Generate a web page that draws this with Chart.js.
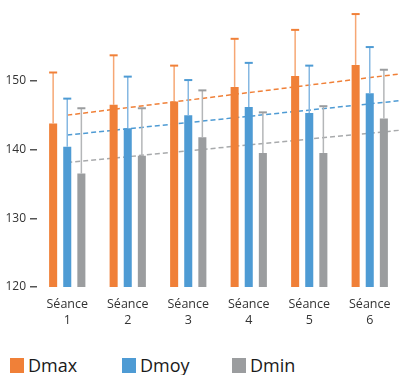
<!DOCTYPE html>
<html>
<head>
<meta charset="utf-8">
<script src="https://cdn.jsdelivr.net/npm/chart.js@4"></script>
<style>
  html, body { margin: 0; padding: 0; background: #ffffff; }
  #wrap { position: relative; width: 401px; height: 375px; overflow: hidden; }
  #wrap canvas { position: absolute; left: 0; top: 0; }
  #legend { position: absolute; left: 0; top: 354px; height: 22px; font-family: 'Open Sans', sans-serif; font-size: 18px; font-weight: 500; color: #1a1a1a; }
  #legend .item { position: absolute; top: 0; height: 22px; display: flex; align-items: center; white-space: nowrap; }
  #legend .box { display: block; width: 14px; height: 15px; margin-right: 4px; }
</style>
</head>
<body>
<div id="wrap">
  <canvas id="trendChart" width="401" height="335"></canvas>
  <canvas id="seanceChart" width="401" height="335"></canvas>
  <div id="legend"></div>
</div>
<script>
const seances = [['Séance', '1'], ['Séance', '2'], ['Séance', '3'], ['Séance', '4'], ['Séance', '5'], ['Séance', '6']];
const dmax = [143.8, 146.5, 147.0, 149.1, 150.7, 152.3];
const dmoy = [140.4, 143.1, 145.0, 146.2, 145.3, 148.2];
const dmin = [136.5, 139.1, 141.8, 139.5, 139.5, 144.5];
// top of the error whiskers
const dmaxTop = [151.2, 153.7, 152.2, 156.1, 157.4, 159.7];
const dmoyTop = [147.4, 150.6, 150.1, 152.6, 152.2, 154.9];
const dminTop = [146.0, 146.0, 148.6, 145.4, 146.3, 151.6];
// dashed trend lines, start (Séance 1) and right edge
const trendX = [0, 5.5];
const dmaxTrend = [145.0, 151.0];
const dmoyTrend = [142.1, 147.1];
const dminTrend = [138.1, 142.8];
const yTicks = [120, 130, 140, 150];

const colors = { max: '#F08038', moy: '#4E9BD4', min: '#9B9D9F' };
const whisker = { max: '#F6A774', moy: '#86B8E2', min: '#B4B6B8' };

function trendPoints(vals) {
    return vals.map((v, i) => ({ x: trendX[i], y: v }));
}

const errorBars = {
    id: 'errorBars',
    afterDatasetsDraw(chart) {
        const ctx = chart.ctx;
        const y = chart.scales.y;
        const tops = [dmaxTop, dmoyTop, dminTop];
        const lines = [whisker.max, whisker.moy, whisker.min];
        const caps = [colors.max, colors.moy, colors.min];
        for (let d = 0; d < 3; d++) {
            chart.getDatasetMeta(d).data.forEach((bar, i) => {
                const yt = y.getPixelForValue(tops[d][i]);
                const half = bar.width / 2;
                ctx.save();
                ctx.strokeStyle = lines[d];
                ctx.lineWidth = 1.5;
                ctx.beginPath();
                ctx.moveTo(bar.x, bar.y);
                ctx.lineTo(bar.x, yt);
                ctx.stroke();
                ctx.strokeStyle = caps[d];
                ctx.lineWidth = 2;
                ctx.beginPath();
                ctx.moveTo(bar.x - half, yt);
                ctx.lineTo(bar.x + half, yt);
                ctx.stroke();
                ctx.restore();
            });
        }
    }
};

// trend lines sit on their own canvas underneath the bars
const trendOpts = { borderWidth: 1.5, borderDash: [5, 3], pointRadius: 0, fill: false, showLine: true };
new Chart(document.getElementById('trendChart'), {
    type: 'scatter',
    data: {
        datasets: [
            Object.assign({ data: trendPoints(dmaxTrend), borderColor: colors.max }, trendOpts),
            Object.assign({ data: trendPoints(dmoyTrend), borderColor: colors.moy }, trendOpts),
            Object.assign({ data: trendPoints(dminTrend), borderColor: '#A8AAAC' }, trendOpts)
        ]
    },
    options: {
        responsive: false,
        animation: false,
        layout: { padding: { top: 12, right: 1, left: 37, bottom: 48 } },
        plugins: { tooltip: { enabled: false }, legend: { display: false } },
        scales: {
            x: { type: 'linear', display: false, min: -0.5, max: 5.5 },
            y: { type: 'linear', display: false, min: 120, max: 160 }
        }
    }
});

new Chart(document.getElementById('seanceChart'), {
    type: 'bar',
    data: {
        labels: seances,
        datasets: [
            { label: 'Dmax', data: dmax, backgroundColor: colors.max },
            { label: 'Dmoy', data: dmoy, backgroundColor: colors.moy },
            { label: 'Dmin', data: dmin, backgroundColor: colors.min }
        ]
    },
    options: {
        responsive: false,
        animation: false,
        categoryPercentage: 0.7,
        barPercentage: 0.57,
        layout: { padding: { top: 12, right: 1, left: 0, bottom: 0 } },
        plugins: {
            tooltip: { enabled: false },
            legend: { display: false }
        },
        scales: {
            x: {
                grid: { display: false },
                border: { display: false },
                ticks: { color: '#333333', padding: 2, font: { family: 'Open Sans', size: 12.5, lineHeight: 1.25 }, maxRotation: 0 },
                afterFit: (s) => { s.height = 48; }
            },
            y: {
                min: 120,
                max: 160,
                border: { display: false },
                grid: { drawOnChartArea: false, drawTicks: true, tickLength: 7, color: '#555555', lineWidth: 1.5 },
                ticks: { stepSize: 10, color: '#333333', padding: 4, font: { family: 'Open Sans', size: 12 } },
                afterBuildTicks: (s) => { s.ticks = s.ticks.filter(t => yTicks.includes(t.value)); },
                afterFit: (s) => { s.width = 37; }
            }
        }
    },
    plugins: [errorBars]
});

// legend, same order as the bars
const legendNames = ['Dmax', 'Dmoy', 'Dmin'];
const legendColors = [colors.max, colors.moy, colors.min];
const legendLeft = [10, 122, 232];
const legendEl = document.getElementById('legend');
legendNames.forEach((name, i) => {
    const item = document.createElement('span');
    item.className = 'item';
    item.style.left = legendLeft[i] + 'px';
    item.innerHTML = '<span class="box" style="background:' + legendColors[i] + '"></span>' + name;
    legendEl.appendChild(item);
});
</script>
</body>
</html>
